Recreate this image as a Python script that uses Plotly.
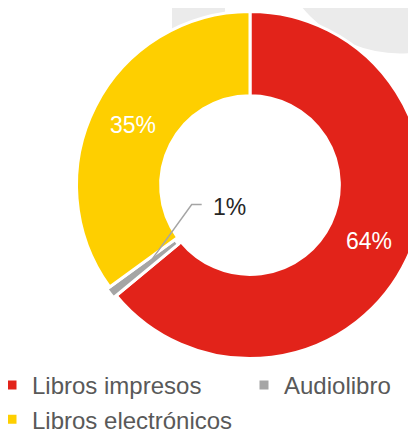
import math
import plotly.graph_objects as go

# ---- data ----
labels = ["Libros impresos", "Audiolibro", "Libros electrónicos"]
values = [64, 1, 35]
colors = ["#e2231a", "#a5a5a5", "#fecf00"]

# page offset (default body margin) and figure size
OFF = 8
W, H = 520, 425
MB = 70                      # bottom margin (legend lives below the plot area)
HP = H - MB                  # plot-area height
FONT = "Liberation Sans, Arial, sans-serif"

# pie geometry in screen pixels
cx, cy, R = 250.0, 185.0, 173.5
pull_gray = 0.02
hole = 0.515
half = R * (1 + pull_gray)


def px(x):
    """screen x -> paper x"""
    return (x - OFF) / W


def py(y):
    """screen y -> paper y (plot area)"""
    return 1 - (y - OFF) / HP


fig = go.Figure()
fig.add_trace(go.Pie(
    labels=labels,
    values=values,
    marker=dict(colors=colors, line=dict(color="white", width=3)),
    hole=hole,
    sort=False,
    direction="clockwise",
    rotation=0,
    pull=[0, pull_gray, 0],
    texttemplate=["%{percent:.0%}", "", "%{percent:.0%}"],
    textposition="inside",
    insidetextorientation="horizontal",
    insidetextfont=dict(color="white", size=23, family=FONT),
    domain=dict(x=[px(cx - half), px(cx + half)],
                y=[max(0, py(cy + half)), min(1, py(cy - half))]),
    hoverinfo="label+percent",
))

# leader line + label for the small slice
total = sum(values)
start = values[0] / total * 360
mid = math.radians(start + values[1] / total * 360 / 2)
r_mid = R * (1 + hole) / 2 * 0.97
x0 = cx + r_mid * math.sin(mid)
y0 = cy - r_mid * math.cos(mid)
ex, ey = 191.7, 204.5
hx = ex + 10
fig.add_shape(type="path", xref="paper", yref="paper",
              path=f"M{px(x0)},{py(y0)} L{px(ex)},{py(ey)} L{px(hx)},{py(ey)}",
              line=dict(color="#a5a5a5", width=1.5))
fig.add_annotation(xref="paper", yref="paper", x=px(hx + 9), y=py(ey + 2),
                   xanchor="left", yanchor="middle", showarrow=False,
                   text=f"{round(values[1] / total * 100)}%",
                   font=dict(size=23, color="#262626", family=FONT))

# background watermark
wm = "#ebebeb"
fig.add_shape(type="rect", xref="paper", yref="paper", layer="below",
              x0=px(172), x1=px(225), y0=py(60), y1=py(0),
              fillcolor=wm, line=dict(width=0))
wcx, wcy = 400, -73.6
for rr, col in [(127, wm), (78, "white")]:
    fig.add_shape(type="circle", xref="paper", yref="paper", layer="below",
                  x0=px(wcx - rr), x1=px(wcx + rr), y0=py(wcy + rr), y1=py(wcy - rr),
                  fillcolor=col, line=dict(width=0))

fig.update_layout(
    width=W, height=H,
    margin=dict(l=0, r=0, t=0, b=MB, autoexpand=False),
    paper_bgcolor="white",
    plot_bgcolor="white",
    showlegend=True,
    legend=dict(
        orientation="h",
        x=(32 - 40 - OFF) / W, xanchor="left",
        y=py(363), yanchor="top",
        font=dict(size=24, color="#595959", family=FONT),
        entrywidth=207,
        traceorder="normal",
        bgcolor="rgba(0,0,0,0)",
    ),
)

fig.write_html("out.html")
